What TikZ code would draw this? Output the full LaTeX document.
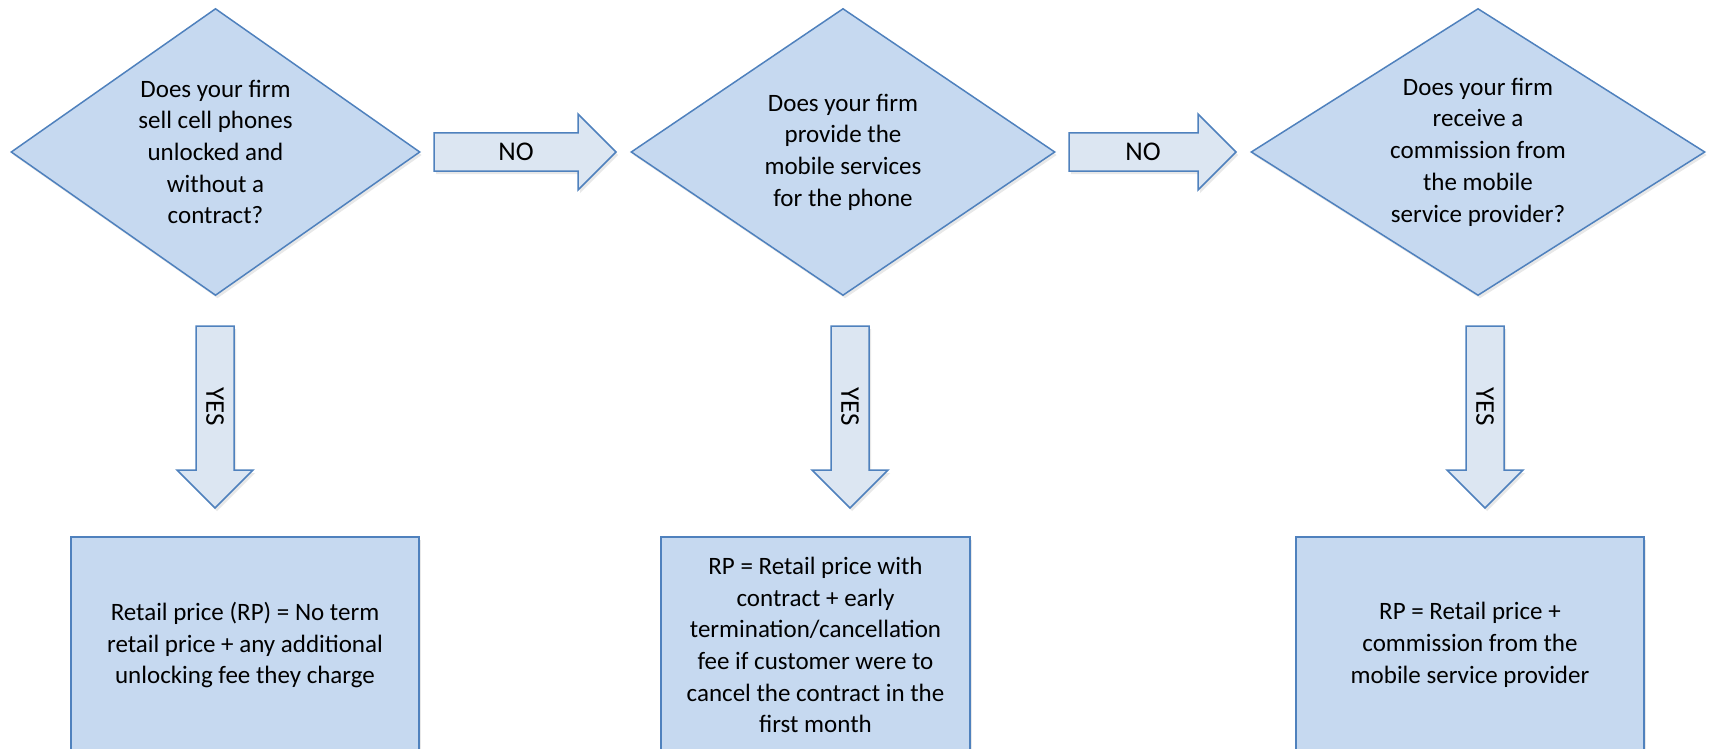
\documentclass[tikz,border=0pt]{standalone}
\usepackage{fontspec}
\setmainfont{Carlito}
\usetikzlibrary{shapes.geometric,shadows}
\definecolor{lineblue}{HTML}{4F81BD}
\definecolor{boxblue}{HTML}{C6D9F0}
\definecolor{arrowblue}{HTML}{DCE6F2}

\begin{document}
\begin{tikzpicture}
[x=1pt,y=-1pt,
 every node/.style={font=\fontsize{25}{31.7}\selectfont,align=center,inner sep=0pt},
 soft/.style={drop shadow={opacity=0.18,shadow xshift=2pt,shadow yshift=-3pt}},
 question/.style={diamond,draw=lineblue,fill=boxblue,line width=1.5pt,soft,minimum height=287pt},
 answer/.style={rectangle,draw=lineblue,fill=boxblue,line width=1.5pt,soft,minimum height=216pt},
 blockarrow/.style={draw=lineblue,fill=arrowblue,line width=1.5pt,soft},
 label/.style={font=\fontsize{27}{32}\selectfont}]

  \useasboundingbox (0,0) rectangle (1710,749);

  % questions
  \node[question,minimum width=409pt,aspect=1.425] (q1) at (215.5,152)
    {Does your firm\\sell cell phones\\unlocked and\\without a\\contract?};
  \node[question,minimum width=424pt,aspect=1.477] (q2) at (843,152)
    {Does your firm\\provide the\\mobile services\\for the phone};
  \node[question,minimum width=454pt,aspect=1.582] (q3) at (1478,152)
    {Does your firm\\receive a\\commission from\\the mobile\\service provider?};

  % answers
  \node[answer,minimum width=348pt] (a1) at (245,645)
    {Retail price (RP) = No term\\retail price + any additional\\unlocking fee they charge};
  \node[answer,minimum width=309pt] (a2) at (815.5,645)
    {RP = Retail price with\\contract + early\\termination/cancellation\\fee if customer were to\\cancel the contract in the\\first month};
  \node[answer,minimum width=348pt] (a3) at (1470,645)
    {RP = Retail price +\\commission from the\\mobile service provider};

  % NO arrows (tail/tip)
  \foreach \from/\to in {434/616, 1069/1236}
    \draw[blockarrow] (\from,133) -- (\to-38,133) -- (\to-38,114) -- (\to,152)
      -- (\to-38,190) -- (\to-38,171) -- (\from,171) -- cycle;

  % YES arrows (centre)
  \foreach \c in {215,850,1485}
    \draw[blockarrow] (\c-19,326) -- (\c+19,326) -- (\c+19,470) -- (\c+38,470)
      -- (\c,508) -- (\c-38,470) -- (\c-19,470) -- cycle;

  \node[label] (no1) at (516,152) {NO};
  \node[label] (no2) at (1143,152) {NO};
  \node[label,rotate=-90] (yes1) at (215,407) {YES};
  \node[label,rotate=-90] (yes2) at (850,407) {YES};
  \node[label,rotate=-90] (yes3) at (1485,407) {YES};
\end{tikzpicture}
\end{document}
